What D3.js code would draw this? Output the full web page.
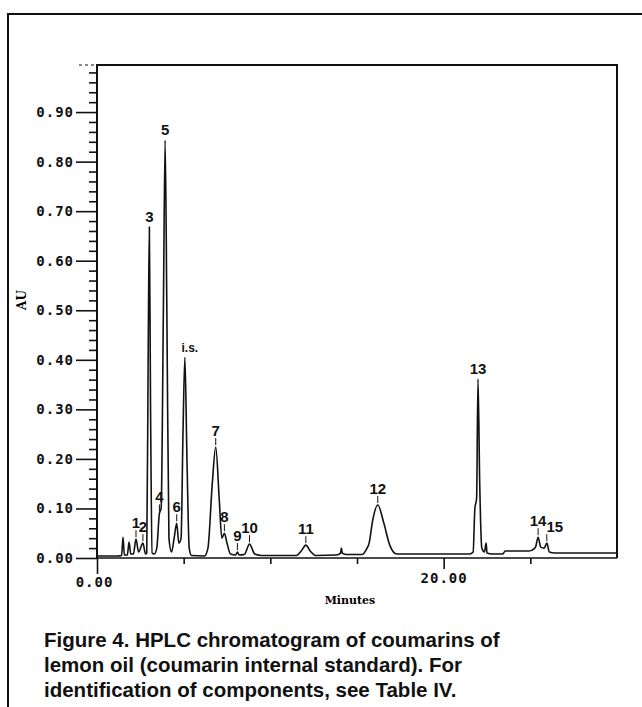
<!DOCTYPE html>
<meta charset="utf-8">
<title>HPLC chromatogram</title>
<style>
    body { margin: 0; background: #fff; }
    .tick text { font-family: "DejaVu Sans Mono", monospace; font-weight: bold; font-size: 14px; letter-spacing: 1px; fill: #111; }
    .tick line { stroke: #111; stroke-width: 1.6; }
    .peak-label { font-family: "Liberation Sans", Arial, sans-serif; font-weight: bold; font-size: 15px; fill: #111; }
    .caption { font-family: "Liberation Sans", Arial, sans-serif; font-weight: bold; font-size: 20.5px; fill: #111; }
</style>
<body>
<script src="https://d3js.org/d3.v7.min.js"></script>
<script>
    var width = 642;
    var height = 707;

    // axis ticks
    var yTicks = [0, 0.1, 0.2, 0.3, 0.4, 0.5, 0.6, 0.7, 0.8, 0.9];
    var yMinorTicks = [0.02, 0.04, 0.06, 0.08, 0.12, 0.14, 0.16, 0.18, 0.22, 0.24, 0.26, 0.28,
        0.32, 0.34, 0.36, 0.38, 0.42, 0.44, 0.46, 0.48, 0.52, 0.54, 0.56, 0.58,
        0.62, 0.64, 0.66, 0.68, 0.72, 0.74, 0.76, 0.78, 0.82, 0.84, 0.86, 0.88,
        0.92, 0.94, 0.96, 0.98];
    var xTicks = [0, 20];
    var xMinorTicks = [5, 10, 15, 25];

    // detector trace, [minutes, AU]
    var trace = [
        [0, 0.004], [1.2, 0.004], [1.42, 0.005], [1.5, 0.042], [1.58, 0.006],
        [1.75, 0.006], [1.85, 0.032], [1.95, 0.008], [2.1, 0.008], [2.25, 0.038],
        [2.4, 0.012], [2.65, 0.03], [2.8, 0.008], [2.87, 0.01], [2.96, 0.45],
        [3.02, 0.668], [3.09, 0.3], [3.18, 0.01], [3.3, 0.008], [3.45, 0.02],
        [3.6, 0.09], [3.7, 0.1], [3.83, 0.5], [3.93, 0.843], [4.03, 0.5],
        [4.15, 0.04], [4.3, 0.012], [4.45, 0.04], [4.6, 0.07], [4.72, 0.03],
        [4.85, 0.04], [4.96, 0.25], [5.07, 0.405], [5.19, 0.2], [5.32, 0.02],
        [5.45, 0.005], [6.2, 0.004], [6.4, 0.02], [6.65, 0.15], [6.85, 0.224],
        [7.05, 0.12], [7.2, 0.04], [7.35, 0.05], [7.5, 0.03], [7.7, 0.008],
        [8.0, 0.006], [8.1, 0.012], [8.2, 0.006], [8.5, 0.007], [8.8, 0.028],
        [9.1, 0.008], [9.5, 0.005], [11.5, 0.005], [11.8, 0.015], [12.05, 0.026],
        [12.3, 0.014], [12.6, 0.005], [13.8, 0.006], [14.05, 0.01], [14.1, 0.02],
        [14.15, 0.01], [14.4, 0.007], [15.3, 0.007], [15.55, 0.018], [15.7, 0.03],
        [15.9, 0.075], [16.2, 0.107], [16.55, 0.07], [16.9, 0.025], [17.3, 0.008],
        [20, 0.008], [21.5, 0.008], [21.7, 0.012], [21.8, 0.1], [21.9, 0.12],
        [21.98, 0.361], [22.08, 0.15], [22.2, 0.02], [22.35, 0.012], [22.45, 0.03],
        [22.5, 0.01], [22.8, 0.008], [23.4, 0.008], [23.55, 0.014], [24.9, 0.014],
        [25.1, 0.016], [25.3, 0.022], [25.45, 0.042], [25.6, 0.022], [25.8, 0.02],
        [25.95, 0.03], [26.1, 0.012], [26.4, 0.01], [30, 0.01]
    ];

    // labelled peaks
    var peakNames = ["1", "2", "3", "4", "5", "6", "i.s.", "7", "8", "9", "10", "11", "12", "13", "14", "15"];
    var peakTimes = [2.25, 2.65, 3.02, 3.6, 3.93, 4.6, 5.07, 6.85, 7.35, 8.1, 8.8, 12.05, 16.2, 21.98, 25.45, 25.95];
    var peakHeights = [0.038, 0.03, 0.668, 0.09, 0.843, 0.07, 0.405, 0.224, 0.05, 0.012, 0.028, 0.026, 0.107, 0.361, 0.042, 0.03];

    var captionLines = [
        "Figure 4. HPLC chromatogram of coumarins of",
        "lemon oil (coumarin internal standard). For",
        "identification of components, see Table IV."
    ];

    var x = d3.scaleLinear().domain([0, 30]).range([97, 617]);
    var y = d3.scaleLinear().domain([0, 0.995]).range([558, 65]);

    var svg = d3.select("body").append("svg")
        .attr("width", width)
        .attr("height", height);

    // scan border
    svg.append("path")
        .attr("d", "M8," + height + "V14H" + width)
        .attr("fill", "none")
        .attr("stroke", "#111")
        .attr("stroke-width", 2);

    // plot frame
    svg.append("path")
        .attr("d", "M" + x(0) + "," + y(0) + "V" + y(0.995) + "H" + x(30) + "V" + y(0))
        .attr("fill", "none")
        .attr("stroke", "#111")
        .attr("stroke-width", 2);

    svg.append("line")
        .attr("x1", x(0)).attr("x2", x(30))
        .attr("y1", y(0)).attr("y2", y(0))
        .attr("stroke", "#111")
        .attr("stroke-width", 1.6);

    // y axis
    svg.append("g")
        .attr("transform", "translate(" + x(0) + ",0)")
        .call(d3.axisLeft(y).tickValues(yTicks).tickSize(21).tickSizeOuter(0).tickPadding(2).tickFormat(d3.format(".2f")))
        .call(g => g.select(".domain").remove());

    svg.append("g")
        .attr("transform", "translate(" + x(0) + ",0)")
        .call(d3.axisLeft(y).tickValues(yMinorTicks).tickSize(8).tickFormat(""))
        .call(g => g.select(".domain").remove());

    svg.append("line")
        .attr("x1", x(0) - 18).attr("x2", x(0))
        .attr("y1", y(0.995)).attr("y2", y(0.995))
        .attr("stroke", "#111")
        .attr("stroke-dasharray", "3,3");

    // x axis, the 0 tick hangs a bit lower than the 20 tick
    var xAxis = svg.append("g")
        .attr("transform", "translate(0," + y(0) + ")")
        .call(d3.axisBottom(x).tickValues(xTicks).tickSize(12).tickFormat(d3.format(".2f")))
        .call(g => g.select(".domain").remove());
    xAxis.selectAll(".tick line").attr("y2", d => d == 0 ? 16 : 11);
    xAxis.selectAll(".tick text").attr("y", d => d == 0 ? 19 : 15).attr("x", d => d == 0 ? -3 : 0);

    svg.append("g")
        .attr("transform", "translate(0," + y(0) + ")")
        .call(d3.axisBottom(x).tickValues(xMinorTicks).tickSize(6).tickFormat(""))
        .call(g => g.select(".domain").remove());

    svg.append("text")
        .attr("x", 350)
        .attr("y", 604)
        .attr("text-anchor", "middle")
        .style("font-family", "'DejaVu Serif', serif")
        .style("font-weight", "bold")
        .style("font-size", "11px")
        .text("Minutes");

    svg.append("text")
        .attr("transform", "translate(26,300) rotate(-90)")
        .attr("text-anchor", "middle")
        .style("font-family", "'DejaVu Serif', serif")
        .style("font-weight", "bold")
        .style("font-size", "12px")
        .text("AU");

    // chromatogram
    var line = d3.line()
        .x(d => x(d[0]))
        .y(d => y(d[1]))
        .curve(d3.curveMonotoneX);

    svg.append("path")
        .datum(trace)
        .attr("d", line)
        .attr("fill", "none")
        .attr("stroke", "#111")
        .attr("stroke-width", 1.6);

    // peak labels; tall narrow peaks get the label close, small ones a leader tick
    var peaks = peakNames.map((n, i) => ({name: n, t: peakTimes[i], h: peakHeights[i]}));
    var gap = d => d.h > 0.3 ? 5 : 11;

    svg.append("g").selectAll("line")
        .data(peaks.filter(d => d.h <= 0.3))
        .enter().append("line")
        .attr("x1", d => x(d.t)).attr("x2", d => x(d.t))
        .attr("y1", d => y(d.h) - 9).attr("y2", d => y(d.h) - 2)
        .attr("stroke", "#111")
        .attr("stroke-width", 1);

    svg.append("g").selectAll("text")
        .data(peaks)
        .enter().append("text")
        .attr("class", "peak-label")
        .attr("x", d => x(d.t) + (d.name == "i.s." ? 5 : d.name == "15" ? 8 : 0))
        .attr("y", d => y(d.h) - gap(d))
        .attr("text-anchor", "middle")
        .style("font-size", d => d.name == "i.s." ? "12px" : null)
        .text(d => d.name);

    svg.append("g").selectAll("text")
        .data(captionLines)
        .enter().append("text")
        .attr("class", "caption")
        .attr("x", 44)
        .attr("y", (d, i) => 647 + i * 25)
        .text(d => d);
</script>
